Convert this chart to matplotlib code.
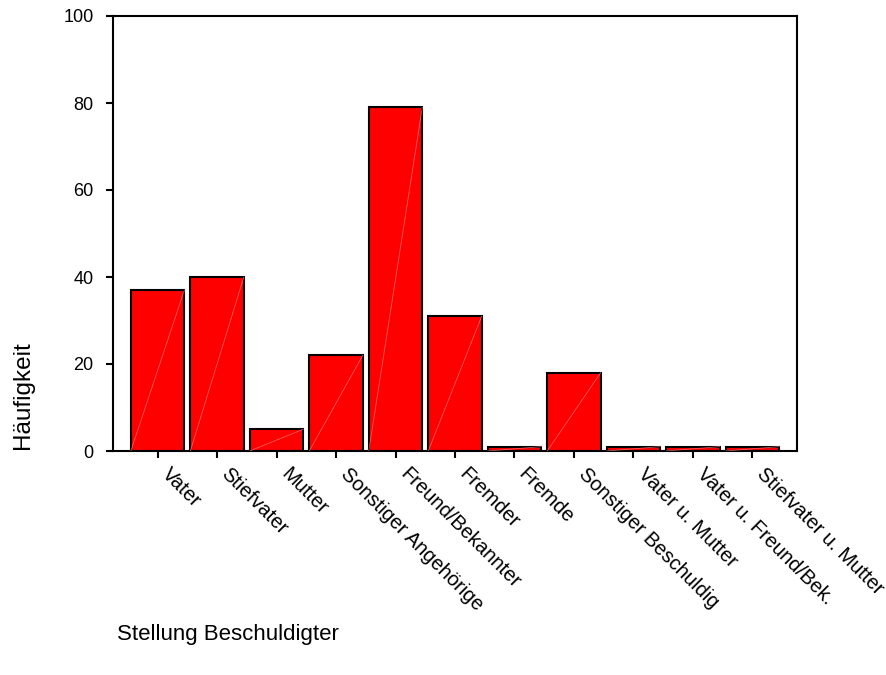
import matplotlib
matplotlib.use("Agg")
import matplotlib.pyplot as plt
import matplotlib.transforms as mtransforms
import numpy as np

categories = ["Vater", "Stiefvater", "Mutter", "Sonstiger Angehörige",
              "Freund/Bekannter", "Fremder", "Fremde", "Sonstiger Beschuldig",
              "Vater u. Mutter", "Vater u. Freund/Bek.", "Stiefvater u. Mutter"]
counts = [37, 40, 5, 22, 79, 31, 1, 18, 1, 1, 1]
yticks = [0, 20, 40, 60, 80, 100]

plt.rcParams['font.family'] = ['Liberation Sans', 'DejaVu Sans']

W, H = 886, 675
fig = plt.figure(figsize=(W / 100, H / 100), dpi=100)
ax = fig.add_axes([113 / W, 1 - 451 / H, (797 - 113) / W, (451 - 16) / H])

x = np.arange(len(categories))
width = 0.9
ax.bar(x, counts, width=width, color='#ff0000', edgecolor='black',
       linewidth=1.5, zorder=2)
# faint diagonal artifact lines inside bars
for xi, v in zip(x, counts):
    ax.plot([xi - width / 2, xi + width / 2], [0, v], color='#ff8080',
            linewidth=0.6, alpha=0.7, zorder=3)

ax.set_xlim(-0.75, len(categories) - 0.25)
ax.set_ylim(0, 100)
ax.set_yticks(yticks)
ax.set_yticklabels([str(t) for t in yticks], fontsize=13)
ax.set_xticks(x)

for s in ax.spines.values():
    s.set_linewidth(1.5)
    s.set_color('black')
ax.tick_params(axis='both', direction='out', length=5, width=1.5, colors='black')
ax.tick_params(axis='y', pad=9)
ax.tick_params(axis='x', pad=6)

ax.set_xticklabels(categories, fontsize=14.5, rotation=-45, ha='left',
                   va='top', rotation_mode='anchor')
offset = mtransforms.ScaledTranslation(14 / 100, 2 / 100, fig.dpi_scale_trans)
for lab in ax.get_xticklabels():
    lab.set_transform(lab.get_transform() + offset)

fig.text(23 / W, 1 - 395 / H, "Häufigkeit", rotation=90, fontsize=17.5,
         ha='center', va='center')
fig.text(117 / W, 1 - 640 / H, "Stellung Beschuldigter", fontsize=16,
         ha='left', va='baseline')

fig.savefig("out.png", dpi=100)
